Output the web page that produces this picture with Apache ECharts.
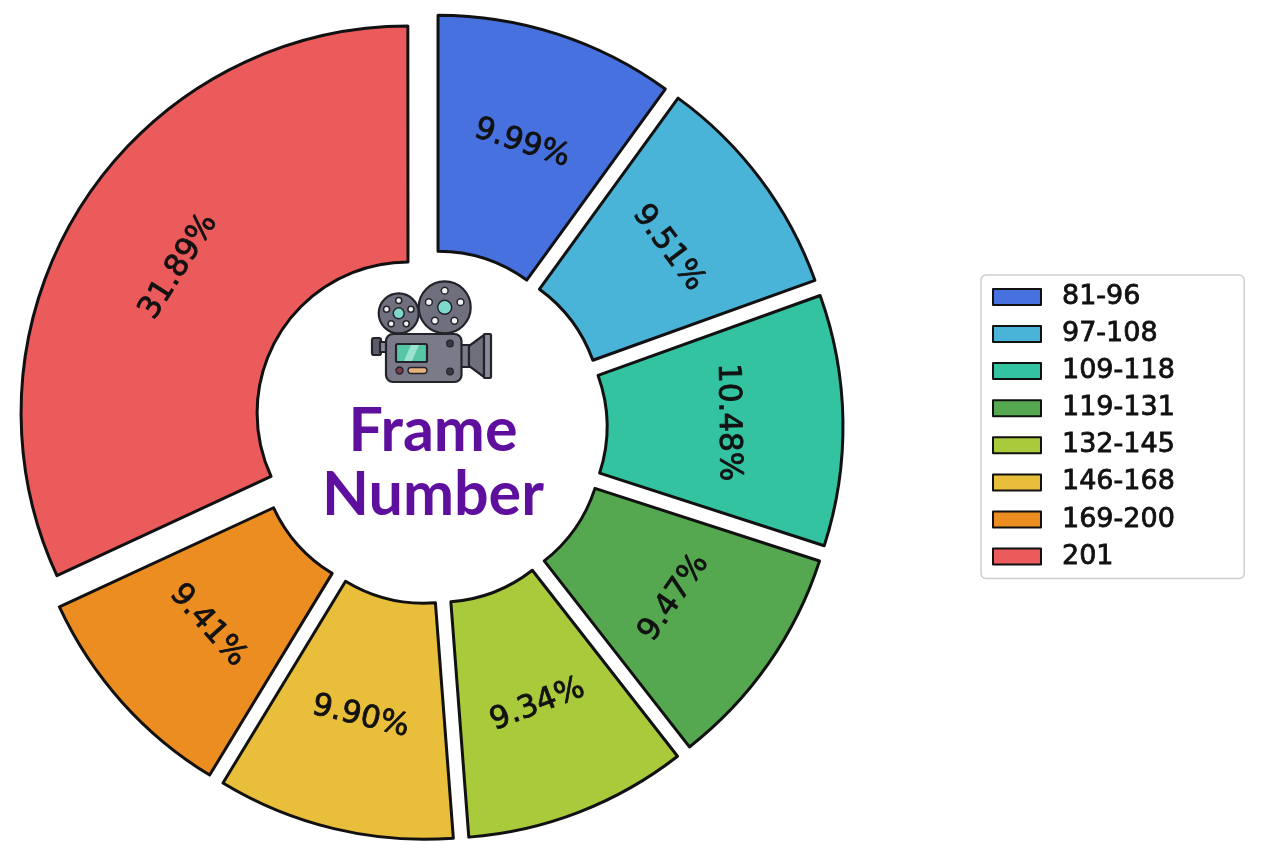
<!DOCTYPE html>
<html>
<head>
<meta charset="utf-8">
<style>html,body{margin:0;padding:0;background:#fff}#c{width:1264px;height:848px}</style>
<script src="https://cdn.jsdelivr.net/npm/echarts@6/dist/echarts.min.js"></script>
</head>
<body>
<div id="c"></div>
<script>
const categories = ['81-96','97-108','109-118','119-131','132-145','146-168','169-200','201'];
const shares = [9.99, 9.51, 10.48, 9.47, 9.34, 9.90, 9.41, 31.89];
const colors = ['#4671DE','#4AB3D8','#33C3A0','#55A84F','#A9CB3B','#E8BE3A','#EC8D22','#EB5B5B'];

const cx = 430, cy = 427, explode = 26;
const edge = '#111111';
let cum = 0;
const series = categories.map((name, i) => {
  const start = cum * 3.6;
  const mid = (start + shares[i] * 1.8) * Math.PI / 180;
  cum += shares[i];
  return {
    type: 'pie',
    name,
    radius: [151, 387],
    center: [cx + explode * Math.sin(mid), cy - explode * Math.cos(mid)],
    startAngle: 90 - start,
    clockwise: true,
    animation: false,
    avoidLabelOverlap: false,
    labelLine: {show: false},
    emphasis: {disabled: true},
    data: [
      {
        name, value: shares[i],
        itemStyle: {color: colors[i], borderColor: edge, borderWidth: 3},
        label: {
          show: true, position: 'inside', rotate: 'tangential',
          formatter: p => p.value.toFixed(2) + '%',
          fontFamily: 'DejaVu Sans', fontSize: 31, color: '#111111',
          textBorderColor: '#111111', textBorderWidth: 0.8
        }
      },
      {
        name: '\u200b' + i, value: 100 - shares[i],
        itemStyle: {color: 'transparent', borderWidth: 0},
        label: {show: false}, tooltip: {show: false}
      }
    ]
  };
});

const c = echarts.init(document.getElementById('c'), null, {renderer: 'canvas'});

const metal = '#6F6F7E', dark = '#23232B';
const stroke = {stroke: dark, lineWidth: 2.2};
const hole = (x, y, r) => ({type: 'circle', shape: {cx: x, cy: y, r}, style: {fill: '#F2F2F2', stroke: dark, lineWidth: 1.5}});
const reel = (x, y, r, holes, hubR) => {
  const els = [
    {type: 'circle', shape: {cx: x, cy: y, r}, style: {fill: metal, ...stroke}},
    {type: 'circle', shape: {cx: x, cy: y, r: hubR}, style: {fill: '#7FD8CC', stroke: dark, lineWidth: 1.5}}
  ];
  for (let k = 0; k < 5; k++) {
    const a = k * 72 * Math.PI / 180;
    els.push(hole(x + r * 0.64 * Math.sin(a), y - r * 0.64 * Math.cos(a), holes));
  }
  return els;
};

c.setOption({
  backgroundColor: '#ffffff',
  animation: false,
  title: {
    text: 'Frame\nNumber',
    left: 428, top: 394, textAlign: 'center',
    textStyle: {fontFamily: 'Lato', fontWeight: 'bold', fontSize: 61, lineHeight: 64, color: '#5E0F9E'}
  },
  legend: {
    data: categories.map((name, i) => ({name, itemStyle: {color: colors[i], borderColor: edge, borderWidth: 2}})),
    orient: 'vertical',
    left: 981, top: 275,
    padding: [8, 69, 8, 11],
    itemWidth: 48, itemHeight: 16, itemGap: 9.3,
    icon: 'rect',
    selectedMode: false,
    backgroundColor: '#ffffff',
    borderColor: '#CFCFCF', borderWidth: 1.5, borderRadius: 5,
    textStyle: {fontFamily: 'DejaVu Sans', fontSize: 27, color: '#111111', padding: [0, 0, 0, 16], lineHeight: 22,
      textBorderColor: '#111111', textBorderWidth: 0.8}
  },
  series,
  graphic: {elements: [
    ...reel(398.7, 313.3, 20, 3, 5.5),
    ...reel(444.7, 307.3, 26, 3.4, 7),
    {type: 'rect', shape: {x: 372, y: 338, width: 9, height: 17, r: 2}, style: {fill: '#5C5C6A', ...stroke}},
    {type: 'rect', shape: {x: 380, y: 342, width: 8, height: 10}, style: {fill: '#8A8A98', ...stroke}},
    {type: 'rect', shape: {x: 460, y: 345, width: 9, height: 22}, style: {fill: '#7C7C8A', ...stroke}},
    {type: 'polygon', shape: {points: [[469, 346], [484, 335], [484, 377], [469, 366]]}, style: {fill: '#6F6F7E', ...stroke}},
    {type: 'rect', shape: {x: 484, y: 334, width: 7, height: 44, r: 1}, style: {fill: '#8A8A98', ...stroke}},
    {type: 'rect', shape: {x: 386, y: 334, width: 75.5, height: 48, r: 7}, style: {fill: '#7A7A88', ...stroke}},
    {type: 'rect', shape: {x: 396, y: 344, width: 31, height: 18, r: 1.5}, style: {fill: '#55C7A6', ...stroke}},
    {type: 'polygon', shape: {points: [[411, 345], [419, 345], [412, 361], [404, 361]]}, style: {fill: '#9BE3CF'}},
    {type: 'circle', shape: {cx: 399.5, cy: 370.5, r: 3.5}, style: {fill: '#7A3B46', stroke: dark, lineWidth: 1.4}},
    {type: 'rect', shape: {x: 408, y: 367.5, width: 19, height: 6, r: 3}, style: {fill: '#E8B27E', stroke: dark, lineWidth: 1.4}},
    {type: 'circle', shape: {cx: 450, cy: 343.5, r: 3.3}, style: {fill: '#3A3A46', stroke: dark, lineWidth: 1.2}},
    {type: 'circle', shape: {cx: 450, cy: 371.5, r: 3.3}, style: {fill: '#3A3A46', stroke: dark, lineWidth: 1.2}}
  ]}
});
</script>
</body>
</html>
